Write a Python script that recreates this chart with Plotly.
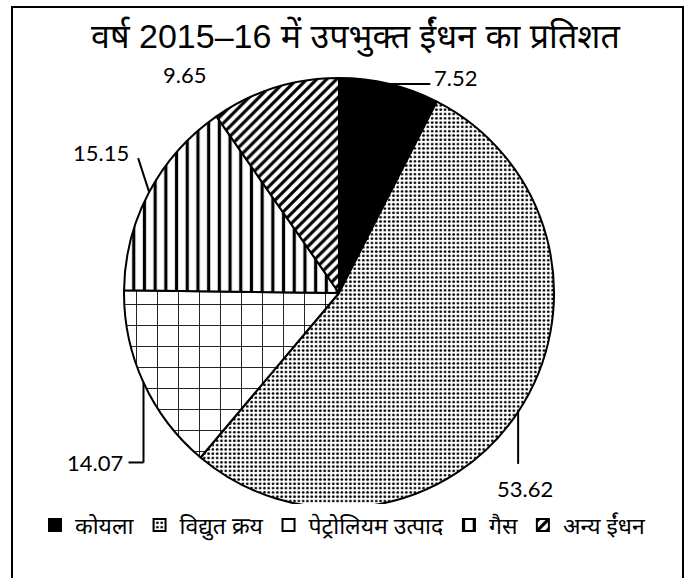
import math
import plotly.graph_objects as go

# ---- data ----
categories = ["कोयला", "विद्युत क्रय", "पेट्रोलियम उत्पाद", "गैस", "अन्य ईंधन"]
values = [7.52, 53.62, 14.07, 15.15, 9.65]
value_labels = ["7.52", "53.62", "14.07", "15.15", "9.65"]
title_text = "वर्ष 2015–16 में उपभुक्त ईंधन का प्रतिशत"

# ---- styling ----
W, H = 686, 578
CX, CY, R = 339, 293, 215
slice_colors = ["black", "white", "white", "white", "white"]
pattern_shapes = ["", ".", "+", "|", "/"]
pattern_sizes = [6, 4.3, 21, 10.7, 7]
pattern_solidity = [0.3, 0.32, 0.08, 0.3, 0.45]

# label placement relative to slice-edge midpoint (pixels): line path offsets, text offset, anchor
label_layout = [
    dict(path=[(41, 0)], text=(43, -6), anchor="left"),
    dict(path=[(0, 52)], text=(7, 77), anchor="center"),
    dict(path=[(0, 80), (-15, 80)], text=(-19, 80), anchor="right"),
    dict(path=[(-11, -34)], text=(-18, -40), anchor="right"),
    dict(path=[], text=(-90, -13), anchor="center"),
]

def px2paper(x, y):
    return x / W, 1 - y / H

fig = go.Figure()
fig.add_trace(go.Pie(
    labels=categories,
    values=values,
    sort=False,
    direction="clockwise",
    rotation=0,
    textinfo="none",
    hoverinfo="label+value",
    marker=dict(
        colors=slice_colors,
        line=dict(color="black", width=2),
        pattern=dict(shape=pattern_shapes, size=pattern_sizes, solidity=pattern_solidity,
                     fgcolor="black", bgcolor=slice_colors, fillmode="replace"),
    ),
    domain=dict(x=[(CX - R) / W, (CX + R) / W], y=[(H - CY - R) / H, (H - CY + R) / H]),
))

total = sum(values)
cum = 0.0
shapes = []
annotations = []
for v, lab, lay in zip(values, value_labels, label_layout):
    theta = 2 * math.pi * (cum + v / 2) / total
    cum += v
    ex = CX + R * math.sin(theta)
    ey = CY - R * math.cos(theta)
    pts = [(ex, ey)] + [(ex + dx, ey + dy) for dx, dy in lay["path"]]
    for (x0, y0), (x1, y1) in zip(pts[:-1], pts[1:]):
        a0, b0 = px2paper(x0, y0)
        a1, b1 = px2paper(x1, y1)
        shapes.append(dict(type="line", xref="paper", yref="paper", x0=a0, y0=b0, x1=a1, y1=b1,
                           line=dict(color="black", width=2)))
    tx, ty = px2paper(ex + lay["text"][0], ey + lay["text"][1])
    annotations.append(dict(x=tx, y=ty, xref="paper", yref="paper", text=lab, showarrow=False,
                            xanchor=lay["anchor"], yanchor="middle",
                            font=dict(family="Lato, Open Sans, sans-serif", size=22, color="black")))

# outer border
shapes.append(dict(type="rect", xref="paper", yref="paper", x0=12 / W, x1=683 / W, y0=-0.05, y1=1 - 7 / H,
                   line=dict(color="black", width=2), fillcolor="rgba(0,0,0,0)"))

annotations.append(dict(x=355 / W, y=1 - 37 / H, xref="paper", yref="paper", text=title_text,
                        showarrow=False, xanchor="center", yanchor="middle",
                        font=dict(family="Liberation Sans, Noto Sans, sans-serif", size=34, color="black")))

fig.update_layout(
    width=W, height=H,
    margin=dict(l=0, r=0, t=0, b=0),
    paper_bgcolor="white",
    plot_bgcolor="white",
    shapes=shapes,
    annotations=annotations,
    showlegend=True,
    legend=dict(orientation="h", x=0.5, xanchor="center", y=1 - 525 / H, yanchor="middle",
                font=dict(family="Noto Sans, sans-serif", size=23, color="black"),
                itemwidth=30, traceorder="normal"),
)

fig.write_html("out.html", config={"displayModeBar": False},
               post_script="document.body.style.margin='0';")
